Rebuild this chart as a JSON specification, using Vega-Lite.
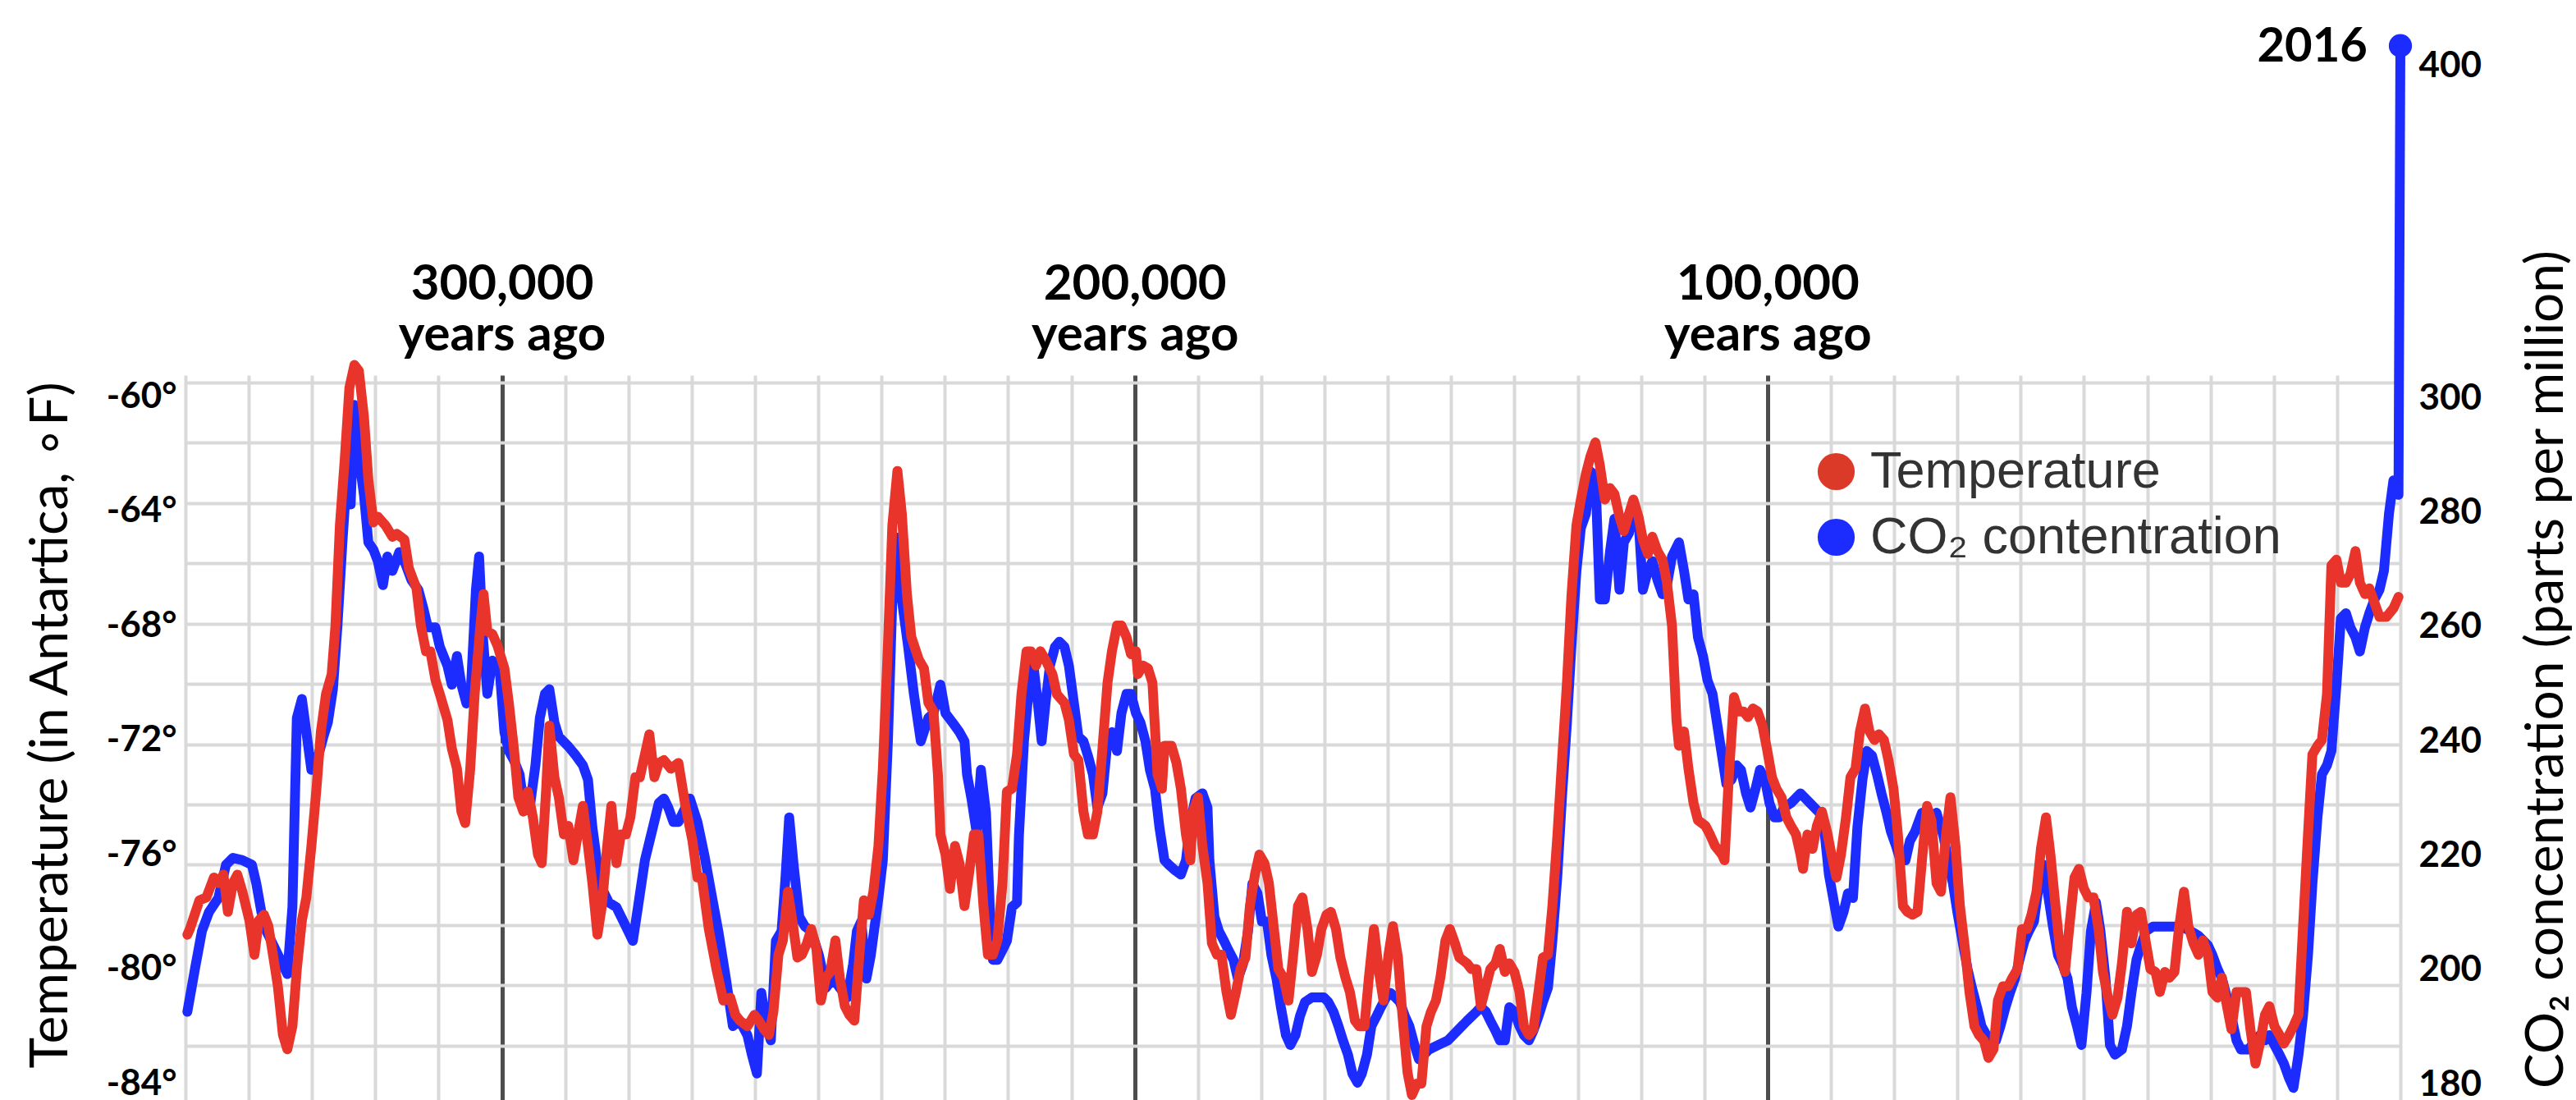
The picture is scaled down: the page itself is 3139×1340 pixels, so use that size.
{
  "$schema": "https://vega.github.io/schema/vega-lite/v6.json",
  "width": 2699,
  "height": 883,
  "autosize": {"type": "none"},
  "padding": {"left": 226, "top": 457, "right": 214, "bottom": 0},
  "background": "white",
  "config": {"view": {"stroke": null}, "font": "Lato"},
  "datasets": {
    "temperature": [
      {"kyr":-349.7,"temp":-78.8},{"kyr":-349.3,"temp":-78.6},{"kyr":-347.8,"temp":-77.6},{"kyr":-346.7,"temp":-77.5},{"kyr":-345.5,"temp":-76.8},{"kyr":-344.8,"temp":-77.0},{"kyr":-344.0,"temp":-76.7},{"kyr":-343.3,"temp":-78.0},{"kyr":-342.5,"temp":-77.0},{"kyr":-341.8,"temp":-76.7},{"kyr":-341.0,"temp":-77.3},{"kyr":-339.9,"temp":-78.3},{"kyr":-339.1,"temp":-79.5},{"kyr":-338.4,"temp":-78.3},{"kyr":-337.6,"temp":-78.1},{"kyr":-336.9,"temp":-78.5},{"kyr":-336.1,"temp":-79.6},{"kyr":-335.4,"temp":-80.6},{"kyr":-334.6,"temp":-82.3},{"kyr":-333.9,"temp":-82.8},{"kyr":-333.1,"temp":-82.0},{"kyr":-332.4,"temp":-80.0},{"kyr":-331.6,"temp":-78.3},{"kyr":-330.9,"temp":-77.5},{"kyr":-330.1,"temp":-75.7},{"kyr":-329.3,"temp":-73.7},{"kyr":-328.6,"temp":-71.7},{"kyr":-327.8,"temp":-70.4},{"kyr":-326.9,"temp":-69.7},{"kyr":-326.3,"temp":-68.0},{"kyr":-325.6,"temp":-64.5},{"kyr":-324.8,"temp":-62.1},{"kyr":-324.1,"temp":-59.7},{"kyr":-323.3,"temp":-58.9},{"kyr":-322.6,"temp":-59.1},{"kyr":-321.8,"temp":-60.7},{"kyr":-321.1,"temp":-62.9},{"kyr":-320.3,"temp":-64.4},{"kyr":-319.6,"temp":-64.2},{"kyr":-318.4,"temp":-64.5},{"kyr":-317.3,"temp":-64.9},{"kyr":-316.6,"temp":-64.8},{"kyr":-315.4,"temp":-65.0},{"kyr":-314.7,"temp":-66.0},{"kyr":-313.5,"temp":-66.7},{"kyr":-312.8,"temp":-68.0},{"kyr":-312.0,"temp":-68.9},{"kyr":-311.3,"temp":-68.9},{"kyr":-310.5,"temp":-69.9},{"kyr":-309.8,"temp":-70.4},{"kyr":-308.6,"temp":-71.3},{"kyr":-307.9,"temp":-72.3},{"kyr":-307.1,"temp":-73.0},{"kyr":-306.4,"temp":-74.5},{"kyr":-305.8,"temp":-74.9},{"kyr":-305.0,"temp":-73.0},{"kyr":-304.3,"temp":-70.4},{"kyr":-303.4,"temp":-68.0},{"kyr":-302.9,"temp":-66.9},{"kyr":-302.3,"temp":-68.2},{"kyr":-301.5,"temp":-68.3},{"kyr":-300.7,"temp":-68.7},{"kyr":-299.6,"temp":-69.5},{"kyr":-298.9,"temp":-70.7},{"kyr":-298.1,"temp":-72.3},{"kyr":-297.4,"temp":-74.0},{"kyr":-296.6,"temp":-74.5},{"kyr":-295.9,"temp":-73.8},{"kyr":-295.1,"temp":-74.7},{"kyr":-294.3,"temp":-76.0},{"kyr":-293.7,"temp":-76.3},{"kyr":-293.0,"temp":-73.7},{"kyr":-292.5,"temp":-71.5},{"kyr":-291.7,"temp":-73.3},{"kyr":-291.0,"temp":-74.0},{"kyr":-290.2,"temp":-75.3},{"kyr":-289.5,"temp":-75.0},{"kyr":-288.7,"temp":-76.2},{"kyr":-288.0,"temp":-75.3},{"kyr":-287.2,"temp":-74.3},{"kyr":-286.4,"temp":-75.7},{"kyr":-285.7,"temp":-77.0},{"kyr":-284.9,"temp":-78.8},{"kyr":-284.2,"temp":-77.8},{"kyr":-283.4,"temp":-75.8},{"kyr":-282.7,"temp":-74.3},{"kyr":-281.9,"temp":-76.3},{"kyr":-281.2,"temp":-75.3},{"kyr":-280.4,"temp":-75.3},{"kyr":-279.7,"temp":-74.7},{"kyr":-278.9,"temp":-73.3},{"kyr":-278.2,"temp":-73.3},{"kyr":-277.4,"temp":-72.5},{"kyr":-276.7,"temp":-71.8},{"kyr":-275.9,"temp":-73.3},{"kyr":-275.2,"temp":-72.8},{"kyr":-274.4,"temp":-72.7},{"kyr":-273.3,"temp":-73.0},{"kyr":-272.1,"temp":-72.8},{"kyr":-271.0,"temp":-74.3},{"kyr":-269.9,"temp":-75.5},{"kyr":-269.1,"temp":-76.8},{"kyr":-268.4,"temp":-76.8},{"kyr":-267.3,"temp":-78.6},{"kyr":-266.1,"temp":-80.0},{"kyr":-265.0,"temp":-81.1},{"kyr":-263.9,"temp":-81.0},{"kyr":-263.1,"temp":-81.6},{"kyr":-262.4,"temp":-81.8},{"kyr":-261.2,"temp":-82.0},{"kyr":-260.1,"temp":-81.6},{"kyr":-259.4,"temp":-81.8},{"kyr":-258.6,"temp":-82.1},{"kyr":-257.8,"temp":-82.3},{"kyr":-257.1,"temp":-81.5},{"kyr":-256.3,"temp":-79.5},{"kyr":-255.6,"temp":-79.0},{"kyr":-254.8,"temp":-77.3},{"kyr":-254.1,"temp":-78.3},{"kyr":-253.3,"temp":-79.6},{"kyr":-252.6,"temp":-79.5},{"kyr":-251.8,"temp":-79.1},{"kyr":-251.1,"temp":-78.6},{"kyr":-250.3,"temp":-79.3},{"kyr":-249.6,"temp":-81.1},{"kyr":-248.8,"temp":-80.3},{"kyr":-248.1,"temp":-80.1},{"kyr":-247.3,"temp":-79.0},{"kyr":-246.6,"temp":-80.3},{"kyr":-245.8,"temp":-81.3},{"kyr":-245.1,"temp":-81.6},{"kyr":-244.3,"temp":-81.8},{"kyr":-243.5,"temp":-79.5},{"kyr":-242.8,"temp":-77.6},{"kyr":-242.0,"temp":-78.1},{"kyr":-241.3,"temp":-77.3},{"kyr":-240.5,"temp":-75.7},{"kyr":-239.8,"temp":-73.0},{"kyr":-239.0,"temp":-68.7},{"kyr":-238.3,"temp":-64.5},{"kyr":-237.5,"temp":-62.6},{"kyr":-236.8,"temp":-64.1},{"kyr":-236.0,"temp":-66.9},{"kyr":-235.3,"temp":-68.4},{"kyr":-234.1,"temp":-69.2},{"kyr":-233.3,"temp":-69.5},{"kyr":-232.6,"temp":-70.7},{"kyr":-231.8,"temp":-71.0},{"kyr":-231.1,"temp":-73.2},{"kyr":-230.7,"temp":-75.3},{"kyr":-229.9,"temp":-76.0},{"kyr":-229.2,"temp":-77.2},{"kyr":-228.4,"temp":-75.7},{"kyr":-227.7,"temp":-76.3},{"kyr":-226.9,"temp":-77.8},{"kyr":-226.2,"temp":-76.7},{"kyr":-225.4,"temp":-75.3},{"kyr":-224.7,"temp":-75.3},{"kyr":-223.9,"temp":-77.8},{"kyr":-223.2,"temp":-79.5},{"kyr":-222.4,"temp":-79.5},{"kyr":-221.7,"temp":-79.0},{"kyr":-220.9,"temp":-77.0},{"kyr":-220.2,"temp":-73.8},{"kyr":-219.4,"temp":-73.7},{"kyr":-218.6,"temp":-72.5},{"kyr":-217.9,"temp":-70.4},{"kyr":-217.1,"temp":-68.9},{"kyr":-216.4,"temp":-68.9},{"kyr":-215.6,"temp":-69.4},{"kyr":-214.9,"temp":-68.9},{"kyr":-214.1,"temp":-69.2},{"kyr":-213.0,"temp":-69.7},{"kyr":-212.3,"temp":-70.4},{"kyr":-211.1,"temp":-70.7},{"kyr":-210.4,"temp":-71.3},{"kyr":-209.6,"temp":-72.5},{"kyr":-208.9,"temp":-72.7},{"kyr":-208.1,"temp":-74.5},{"kyr":-207.4,"temp":-75.3},{"kyr":-206.6,"temp":-75.3},{"kyr":-205.9,"temp":-74.5},{"kyr":-205.1,"temp":-72.3},{"kyr":-204.3,"temp":-70.0},{"kyr":-203.6,"temp":-68.9},{"kyr":-202.8,"temp":-68.0},{"kyr":-202.1,"temp":-68.0},{"kyr":-201.3,"temp":-68.4},{"kyr":-200.6,"temp":-69.0},{"kyr":-199.8,"temp":-68.9},{"kyr":-199.5,"temp":-69.7},{"kyr":-198.7,"temp":-69.4},{"kyr":-197.9,"temp":-69.5},{"kyr":-197.2,"temp":-70.0},{"kyr":-196.4,"temp":-73.2},{"kyr":-195.7,"temp":-73.7},{"kyr":-195.3,"temp":-72.2},{"kyr":-194.2,"temp":-72.2},{"kyr":-193.4,"temp":-72.8},{"kyr":-192.7,"temp":-73.7},{"kyr":-191.9,"temp":-75.3},{"kyr":-191.2,"temp":-76.2},{"kyr":-190.8,"temp":-74.5},{"kyr":-190.0,"temp":-74.0},{"kyr":-189.3,"temp":-75.7},{"kyr":-188.5,"temp":-77.0},{"kyr":-187.8,"temp":-79.1},{"kyr":-187.0,"temp":-79.5},{"kyr":-186.3,"temp":-79.5},{"kyr":-185.5,"temp":-80.8},{"kyr":-184.8,"temp":-81.6},{"kyr":-184.0,"temp":-80.8},{"kyr":-183.3,"temp":-80.0},{"kyr":-182.5,"temp":-79.6},{"kyr":-181.8,"temp":-77.8},{"kyr":-181.0,"temp":-76.7},{"kyr":-180.3,"temp":-76.0},{"kyr":-179.5,"temp":-76.3},{"kyr":-178.8,"temp":-77.0},{"kyr":-178.0,"temp":-78.6},{"kyr":-177.3,"temp":-80.0},{"kyr":-176.5,"temp":-80.3},{"kyr":-175.7,"temp":-81.1},{"kyr":-175.0,"temp":-79.6},{"kyr":-174.2,"temp":-77.8},{"kyr":-173.5,"temp":-77.5},{"kyr":-172.7,"temp":-78.6},{"kyr":-172.0,"temp":-80.1},{"kyr":-171.2,"temp":-79.5},{"kyr":-170.5,"temp":-78.6},{"kyr":-169.7,"temp":-78.1},{"kyr":-169.0,"temp":-78.0},{"kyr":-168.2,"temp":-78.6},{"kyr":-167.5,"temp":-79.6},{"kyr":-166.7,"temp":-80.3},{"kyr":-166.0,"temp":-80.8},{"kyr":-165.2,"temp":-81.8},{"kyr":-164.5,"temp":-82.0},{"kyr":-163.7,"temp":-82.0},{"kyr":-163.0,"temp":-80.3},{"kyr":-162.2,"temp":-78.6},{"kyr":-161.4,"temp":-80.1},{"kyr":-160.7,"temp":-81.1},{"kyr":-159.9,"temp":-79.5},{"kyr":-159.2,"temp":-78.5},{"kyr":-158.4,"temp":-79.6},{"kyr":-157.7,"temp":-81.6},{"kyr":-156.9,"temp":-83.6},{"kyr":-156.2,"temp":-84.4},{"kyr":-155.4,"temp":-84.0},{"kyr":-154.7,"temp":-84.0},{"kyr":-153.9,"temp":-82.0},{"kyr":-153.2,"temp":-81.5},{"kyr":-152.4,"temp":-81.1},{"kyr":-151.7,"temp":-80.3},{"kyr":-150.9,"temp":-79.0},{"kyr":-150.2,"temp":-78.6},{"kyr":-149.4,"temp":-79.1},{"kyr":-148.7,"temp":-79.6},{"kyr":-147.5,"temp":-79.8},{"kyr":-146.8,"temp":-80.0},{"kyr":-146.0,"temp":-80.0},{"kyr":-145.3,"temp":-81.3},{"kyr":-144.5,"temp":-80.6},{"kyr":-143.8,"temp":-80.0},{"kyr":-143.0,"temp":-79.8},{"kyr":-142.3,"temp":-79.3},{"kyr":-141.5,"temp":-80.1},{"kyr":-140.8,"temp":-79.8},{"kyr":-140.0,"temp":-80.1},{"kyr":-139.2,"temp":-80.8},{"kyr":-138.5,"temp":-82.0},{"kyr":-137.7,"temp":-82.3},{"kyr":-137.0,"temp":-82.1},{"kyr":-136.2,"temp":-80.8},{"kyr":-135.5,"temp":-79.6},{"kyr":-134.7,"temp":-79.5},{"kyr":-134.0,"temp":-77.8},{"kyr":-133.2,"temp":-75.3},{"kyr":-132.5,"temp":-72.8},{"kyr":-131.7,"temp":-70.0},{"kyr":-131.0,"temp":-67.0},{"kyr":-130.2,"temp":-64.5},{"kyr":-129.5,"temp":-63.6},{"kyr":-128.7,"temp":-62.7},{"kyr":-128.0,"temp":-62.1},{"kyr":-127.2,"temp":-61.6},{"kyr":-126.5,"temp":-62.4},{"kyr":-125.7,"temp":-63.6},{"kyr":-124.9,"temp":-63.2},{"kyr":-124.2,"temp":-63.4},{"kyr":-123.4,"temp":-64.2},{"kyr":-122.7,"temp":-64.7},{"kyr":-121.9,"temp":-64.1},{"kyr":-121.2,"temp":-63.6},{"kyr":-120.4,"temp":-64.2},{"kyr":-119.7,"temp":-65.0},{"kyr":-118.9,"temp":-65.5},{"kyr":-118.2,"temp":-64.9},{"kyr":-117.4,"temp":-65.4},{"kyr":-116.6,"temp":-65.7},{"kyr":-115.9,"temp":-66.5},{"kyr":-115.1,"temp":-68.0},{"kyr":-114.4,"temp":-71.3},{"kyr":-114.0,"temp":-72.2},{"kyr":-113.2,"temp":-71.7},{"kyr":-112.5,"temp":-73.0},{"kyr":-111.7,"temp":-74.2},{"kyr":-111.0,"temp":-74.8},{"kyr":-109.8,"temp":-75.0},{"kyr":-109.1,"temp":-75.3},{"kyr":-108.3,"temp":-75.7},{"kyr":-107.2,"temp":-76.0},{"kyr":-106.8,"temp":-76.2},{"kyr":-106.1,"temp":-73.2},{"kyr":-105.3,"temp":-70.5},{"kyr":-104.6,"temp":-71.0},{"kyr":-103.8,"temp":-71.0},{"kyr":-103.1,"temp":-71.2},{"kyr":-102.3,"temp":-70.9},{"kyr":-101.6,"temp":-71.0},{"kyr":-100.8,"temp":-71.5},{"kyr":-100.1,"temp":-72.3},{"kyr":-99.3,"temp":-73.3},{"kyr":-98.6,"temp":-73.7},{"kyr":-97.8,"temp":-74.0},{"kyr":-97.0,"temp":-74.7},{"kyr":-96.3,"temp":-75.0},{"kyr":-95.5,"temp":-75.3},{"kyr":-94.8,"temp":-76.0},{"kyr":-94.4,"temp":-76.5},{"kyr":-93.7,"temp":-75.3},{"kyr":-92.9,"temp":-75.8},{"kyr":-92.2,"temp":-75.0},{"kyr":-91.4,"temp":-74.5},{"kyr":-90.6,"temp":-75.2},{"kyr":-89.9,"temp":-76.0},{"kyr":-89.1,"temp":-76.8},{"kyr":-88.4,"temp":-76.0},{"kyr":-87.6,"temp":-74.7},{"kyr":-86.9,"temp":-73.3},{"kyr":-86.1,"temp":-73.0},{"kyr":-85.4,"temp":-71.7},{"kyr":-84.6,"temp":-70.9},{"kyr":-83.9,"temp":-71.7},{"kyr":-83.1,"temp":-72.0},{"kyr":-82.4,"temp":-71.8},{"kyr":-81.6,"temp":-72.0},{"kyr":-80.9,"temp":-72.7},{"kyr":-80.1,"temp":-73.7},{"kyr":-79.4,"temp":-75.3},{"kyr":-78.6,"temp":-77.8},{"kyr":-77.9,"temp":-78.0},{"kyr":-77.1,"temp":-78.1},{"kyr":-76.3,"temp":-78.0},{"kyr":-75.6,"temp":-76.2},{"kyr":-74.8,"temp":-74.3},{"kyr":-74.1,"temp":-74.8},{"kyr":-73.3,"temp":-77.0},{"kyr":-72.6,"temp":-77.3},{"kyr":-71.8,"temp":-75.3},{"kyr":-71.1,"temp":-74.0},{"kyr":-70.3,"temp":-75.7},{"kyr":-69.6,"temp":-77.8},{"kyr":-68.8,"temp":-79.3},{"kyr":-68.1,"temp":-80.8},{"kyr":-67.3,"temp":-82.0},{"kyr":-66.6,"temp":-82.3},{"kyr":-65.8,"temp":-82.5},{"kyr":-65.1,"temp":-83.1},{"kyr":-64.3,"temp":-82.8},{"kyr":-63.6,"temp":-81.1},{"kyr":-62.8,"temp":-80.6},{"kyr":-62.0,"temp":-80.6},{"kyr":-61.3,"temp":-80.3},{"kyr":-60.5,"temp":-80.0},{"kyr":-59.8,"temp":-78.6},{"kyr":-59.0,"temp":-78.6},{"kyr":-58.3,"temp":-78.1},{"kyr":-57.5,"temp":-77.3},{"kyr":-56.8,"temp":-75.8},{"kyr":-56.0,"temp":-74.7},{"kyr":-55.3,"temp":-76.0},{"kyr":-54.5,"temp":-77.8},{"kyr":-53.8,"temp":-79.3},{"kyr":-53.0,"temp":-80.1},{"kyr":-52.3,"temp":-78.5},{"kyr":-51.5,"temp":-76.8},{"kyr":-50.8,"temp":-76.5},{"kyr":-50.0,"temp":-77.2},{"kyr":-49.3,"temp":-77.5},{"kyr":-48.5,"temp":-77.5},{"kyr":-47.7,"temp":-78.6},{"kyr":-47.0,"temp":-80.1},{"kyr":-46.2,"temp":-81.0},{"kyr":-45.5,"temp":-81.6},{"kyr":-44.7,"temp":-81.0},{"kyr":-44.0,"temp":-79.8},{"kyr":-43.2,"temp":-78.0},{"kyr":-42.5,"temp":-79.1},{"kyr":-41.7,"temp":-78.1},{"kyr":-41.0,"temp":-78.0},{"kyr":-40.2,"temp":-79.1},{"kyr":-39.5,"temp":-80.0},{"kyr":-38.7,"temp":-80.1},{"kyr":-38.0,"temp":-80.8},{"kyr":-37.2,"temp":-80.1},{"kyr":-36.5,"temp":-80.3},{"kyr":-35.7,"temp":-80.1},{"kyr":-35.0,"temp":-78.6},{"kyr":-34.2,"temp":-77.3},{"kyr":-33.5,"temp":-78.5},{"kyr":-32.7,"temp":-79.1},{"kyr":-31.9,"temp":-79.5},{"kyr":-31.2,"temp":-79.0},{"kyr":-30.4,"temp":-79.5},{"kyr":-29.7,"temp":-80.8},{"kyr":-28.9,"temp":-81.0},{"kyr":-28.2,"temp":-80.3},{"kyr":-27.4,"temp":-81.3},{"kyr":-26.7,"temp":-82.1},{"kyr":-25.9,"temp":-80.8},{"kyr":-25.2,"temp":-80.8},{"kyr":-24.4,"temp":-80.8},{"kyr":-23.7,"temp":-82.1},{"kyr":-22.9,"temp":-83.3},{"kyr":-22.2,"temp":-82.6},{"kyr":-21.4,"temp":-81.6},{"kyr":-20.7,"temp":-81.3},{"kyr":-19.9,"temp":-82.0},{"kyr":-19.1,"temp":-82.3},{"kyr":-18.4,"temp":-82.6},{"kyr":-17.6,"temp":-82.3},{"kyr":-16.9,"temp":-82.0},{"kyr":-16.1,"temp":-81.6},{"kyr":-15.4,"temp":-78.6},{"kyr":-14.6,"temp":-75.3},{"kyr":-13.9,"temp":-72.5},{"kyr":-13.1,"temp":-72.2},{"kyr":-12.4,"temp":-72.0},{"kyr":-11.6,"temp":-70.4},{"kyr":-10.9,"temp":-65.9},{"kyr":-10.1,"temp":-65.7},{"kyr":-9.4,"temp":-66.5},{"kyr":-8.6,"temp":-66.5},{"kyr":-7.9,"temp":-66.2},{"kyr":-7.1,"temp":-65.4},{"kyr":-6.4,"temp":-66.5},{"kyr":-5.6,"temp":-66.9},{"kyr":-4.9,"temp":-66.7},{"kyr":-4.1,"temp":-67.2},{"kyr":-3.3,"temp":-67.7},{"kyr":-2.2,"temp":-67.7},{"kyr":-1.1,"temp":-67.4},{"kyr":-0.3,"temp":-67.0}
    ],
    "co2": [
      {"kyr":-349.7,"co2":192.7},{"kyr":-348.5,"co2":200.2},{"kyr":-347.4,"co2":206.8},{"kyr":-346.3,"co2":210.1},{"kyr":-344.8,"co2":212.6},{"kyr":-343.6,"co2":218.4},{"kyr":-342.5,"co2":219.6},{"kyr":-341.0,"co2":219.2},{"kyr":-339.5,"co2":218.4},{"kyr":-338.8,"co2":215.1},{"kyr":-338.0,"co2":210.1},{"kyr":-337.2,"co2":206.8},{"kyr":-336.1,"co2":204.3},{"kyr":-335.0,"co2":201.8},{"kyr":-333.9,"co2":199.3},{"kyr":-333.1,"co2":211.0},{"kyr":-332.4,"co2":244.1},{"kyr":-331.6,"co2":247.4},{"kyr":-330.9,"co2":241.6},{"kyr":-330.1,"co2":235.0},{"kyr":-329.0,"co2":237.5},{"kyr":-328.2,"co2":240.8},{"kyr":-327.5,"co2":243.3},{"kyr":-326.7,"co2":249.1},{"kyr":-326.0,"co2":259.9},{"kyr":-325.2,"co2":274.8},{"kyr":-324.5,"co2":286.4},{"kyr":-323.9,"co2":281.4},{"kyr":-323.3,"co2":298.8},{"kyr":-322.6,"co2":289.7},{"kyr":-321.8,"co2":283.1},{"kyr":-321.1,"co2":274.8},{"kyr":-320.3,"co2":273.5},{"kyr":-319.6,"co2":271.5},{"kyr":-318.8,"co2":267.3},{"kyr":-318.1,"co2":272.3},{"kyr":-317.3,"co2":269.8},{"kyr":-316.2,"co2":273.1},{"kyr":-315.4,"co2":271.5},{"kyr":-314.3,"co2":268.2},{"kyr":-313.2,"co2":266.5},{"kyr":-312.4,"co2":263.2},{"kyr":-311.7,"co2":259.9},{"kyr":-310.5,"co2":259.9},{"kyr":-309.8,"co2":256.5},{"kyr":-308.6,"co2":253.2},{"kyr":-307.9,"co2":249.9},{"kyr":-307.1,"co2":254.9},{"kyr":-306.4,"co2":249.9},{"kyr":-305.6,"co2":246.6},{"kyr":-304.9,"co2":249.1},{"kyr":-304.1,"co2":266.5},{"kyr":-303.6,"co2":272.3},{"kyr":-303.0,"co2":258.2},{"kyr":-302.3,"co2":248.3},{"kyr":-301.5,"co2":254.1},{"kyr":-300.4,"co2":253.2},{"kyr":-299.6,"co2":241.6},{"kyr":-298.9,"co2":238.3},{"kyr":-298.1,"co2":236.7},{"kyr":-297.2,"co2":234.2},{"kyr":-296.6,"co2":229.2},{"kyr":-295.5,"co2":229.2},{"kyr":-294.7,"co2":235.8},{"kyr":-294.0,"co2":244.1},{"kyr":-293.2,"co2":248.3},{"kyr":-292.5,"co2":249.1},{"kyr":-291.7,"co2":243.3},{"kyr":-291.0,"co2":240.8},{"kyr":-289.5,"co2":239.1},{"kyr":-288.3,"co2":237.5},{"kyr":-287.2,"co2":235.8},{"kyr":-286.4,"co2":233.3},{"kyr":-285.7,"co2":225.0},{"kyr":-284.9,"co2":218.4},{"kyr":-284.2,"co2":214.3},{"kyr":-283.1,"co2":211.8},{"kyr":-281.9,"co2":211.0},{"kyr":-280.8,"co2":208.5},{"kyr":-279.3,"co2":205.1},{"kyr":-278.5,"co2":211.0},{"kyr":-277.4,"co2":219.2},{"kyr":-276.3,"co2":224.2},{"kyr":-275.2,"co2":229.2},{"kyr":-274.4,"co2":230.0},{"kyr":-273.7,"co2":228.4},{"kyr":-272.9,"co2":225.9},{"kyr":-272.1,"co2":225.9},{"kyr":-271.4,"co2":227.5},{"kyr":-270.3,"co2":230.0},{"kyr":-269.1,"co2":225.9},{"kyr":-268.0,"co2":220.1},{"kyr":-266.9,"co2":213.4},{"kyr":-265.8,"co2":206.8},{"kyr":-264.6,"co2":198.5},{"kyr":-263.5,"co2":190.2},{"kyr":-262.4,"co2":191.1},{"kyr":-261.2,"co2":188.6},{"kyr":-260.5,"co2":185.2},{"kyr":-259.7,"co2":181.9},{"kyr":-259.0,"co2":196.0},{"kyr":-258.2,"co2":190.2},{"kyr":-257.5,"co2":187.7},{"kyr":-256.7,"co2":205.1},{"kyr":-255.8,"co2":206.8},{"kyr":-255.2,"co2":215.9},{"kyr":-254.6,"co2":226.7},{"kyr":-253.9,"co2":218.4},{"kyr":-253.0,"co2":209.3},{"kyr":-252.1,"co2":207.6},{"kyr":-251.1,"co2":206.8},{"kyr":-249.9,"co2":202.6},{"kyr":-248.8,"co2":196.9},{"kyr":-247.7,"co2":198.5},{"kyr":-246.6,"co2":196.9},{"kyr":-245.4,"co2":195.2},{"kyr":-244.5,"co2":201.0},{"kyr":-243.9,"co2":206.8},{"kyr":-243.2,"co2":208.5},{"kyr":-242.4,"co2":198.5},{"kyr":-241.7,"co2":202.6},{"kyr":-240.5,"co2":212.6},{"kyr":-239.8,"co2":219.2},{"kyr":-239.0,"co2":240.0},{"kyr":-238.3,"co2":264.8},{"kyr":-237.5,"co2":275.6},{"kyr":-236.8,"co2":264.8},{"kyr":-235.8,"co2":256.5},{"kyr":-234.9,"co2":248.3},{"kyr":-233.8,"co2":240.0},{"kyr":-232.6,"co2":244.1},{"kyr":-231.8,"co2":244.9},{"kyr":-230.7,"co2":249.9},{"kyr":-229.9,"co2":244.9},{"kyr":-228.8,"co2":243.3},{"kyr":-227.7,"co2":241.6},{"kyr":-226.9,"co2":240.0},{"kyr":-226.5,"co2":234.2},{"kyr":-225.8,"co2":230.0},{"kyr":-225.0,"co2":224.2},{"kyr":-224.3,"co2":235.0},{"kyr":-223.5,"co2":227.5},{"kyr":-222.9,"co2":211.0},{"kyr":-222.4,"co2":201.8},{"kyr":-221.7,"co2":201.8},{"kyr":-220.9,"co2":203.5},{"kyr":-220.2,"co2":205.1},{"kyr":-219.4,"co2":211.0},{"kyr":-218.6,"co2":211.8},{"kyr":-218.3,"co2":223.4},{"kyr":-217.5,"co2":240.0},{"kyr":-216.8,"co2":248.3},{"kyr":-216.0,"co2":253.2},{"kyr":-215.3,"co2":246.6},{"kyr":-214.7,"co2":240.0},{"kyr":-214.1,"co2":246.6},{"kyr":-213.4,"co2":253.2},{"kyr":-212.6,"co2":256.5},{"kyr":-211.9,"co2":257.4},{"kyr":-211.1,"co2":256.5},{"kyr":-210.4,"co2":253.2},{"kyr":-209.6,"co2":246.6},{"kyr":-208.9,"co2":240.8},{"kyr":-208.1,"co2":240.0},{"kyr":-207.4,"co2":237.5},{"kyr":-206.6,"co2":234.2},{"kyr":-205.9,"co2":228.4},{"kyr":-205.1,"co2":230.9},{"kyr":-204.3,"co2":240.0},{"kyr":-203.6,"co2":241.6},{"kyr":-202.8,"co2":238.3},{"kyr":-202.1,"co2":244.9},{"kyr":-201.3,"co2":248.3},{"kyr":-200.6,"co2":248.3},{"kyr":-199.8,"co2":244.9},{"kyr":-199.1,"co2":243.3},{"kyr":-198.3,"co2":240.0},{"kyr":-197.6,"co2":235.0},{"kyr":-196.8,"co2":231.7},{"kyr":-196.1,"co2":225.0},{"kyr":-195.3,"co2":219.2},{"kyr":-194.6,"co2":218.4},{"kyr":-193.8,"co2":217.6},{"kyr":-192.7,"co2":216.7},{"kyr":-191.9,"co2":219.2},{"kyr":-191.2,"co2":225.9},{"kyr":-190.4,"co2":230.0},{"kyr":-189.3,"co2":230.9},{"kyr":-188.5,"co2":228.4},{"kyr":-188.2,"co2":219.2},{"kyr":-187.4,"co2":209.3},{"kyr":-186.7,"co2":206.8},{"kyr":-185.9,"co2":205.1},{"kyr":-185.2,"co2":203.5},{"kyr":-184.4,"co2":201.8},{"kyr":-183.7,"co2":198.5},{"kyr":-182.9,"co2":201.0},{"kyr":-182.1,"co2":206.8},{"kyr":-181.4,"co2":215.1},{"kyr":-180.6,"co2":213.4},{"kyr":-179.9,"co2":208.5},{"kyr":-179.1,"co2":208.5},{"kyr":-178.4,"co2":202.6},{"kyr":-177.6,"co2":198.5},{"kyr":-176.9,"co2":193.5},{"kyr":-176.1,"co2":188.6},{"kyr":-175.4,"co2":186.9},{"kyr":-174.6,"co2":188.6},{"kyr":-173.9,"co2":191.9},{"kyr":-173.1,"co2":194.4},{"kyr":-172.0,"co2":195.2},{"kyr":-170.1,"co2":195.2},{"kyr":-169.4,"co2":194.4},{"kyr":-168.6,"co2":192.7},{"kyr":-167.8,"co2":190.2},{"kyr":-167.1,"co2":187.7},{"kyr":-166.3,"co2":185.2},{"kyr":-165.6,"co2":181.9},{"kyr":-164.8,"co2":180.3},{"kyr":-164.1,"co2":181.9},{"kyr":-163.3,"co2":185.2},{"kyr":-162.6,"co2":190.2},{"kyr":-161.8,"co2":191.9},{"kyr":-161.1,"co2":193.5},{"kyr":-160.3,"co2":195.2},{"kyr":-159.6,"co2":196.0},{"kyr":-158.8,"co2":195.2},{"kyr":-158.1,"co2":194.4},{"kyr":-157.3,"co2":191.9},{"kyr":-156.6,"co2":190.2},{"kyr":-155.8,"co2":186.9},{"kyr":-155.1,"co2":184.4},{"kyr":-154.3,"co2":185.2},{"kyr":-153.5,"co2":186.1},{"kyr":-152.0,"co2":186.9},{"kyr":-150.5,"co2":187.7},{"kyr":-149.0,"co2":189.4},{"kyr":-147.5,"co2":191.1},{"kyr":-146.0,"co2":192.7},{"kyr":-145.3,"co2":193.5},{"kyr":-144.5,"co2":192.7},{"kyr":-143.8,"co2":191.1},{"kyr":-143.0,"co2":189.4},{"kyr":-142.3,"co2":187.7},{"kyr":-141.5,"co2":187.7},{"kyr":-140.8,"co2":193.5},{"kyr":-140.0,"co2":192.7},{"kyr":-139.2,"co2":190.2},{"kyr":-138.5,"co2":188.6},{"kyr":-137.7,"co2":187.7},{"kyr":-137.0,"co2":189.4},{"kyr":-136.2,"co2":191.9},{"kyr":-135.5,"co2":194.4},{"kyr":-134.7,"co2":196.9},{"kyr":-134.0,"co2":205.1},{"kyr":-133.2,"co2":216.7},{"kyr":-132.5,"co2":230.0},{"kyr":-131.7,"co2":243.3},{"kyr":-131.0,"co2":256.5},{"kyr":-130.2,"co2":269.8},{"kyr":-129.5,"co2":277.3},{"kyr":-128.7,"co2":279.8},{"kyr":-128.0,"co2":287.2},{"kyr":-127.2,"co2":286.4},{"kyr":-126.5,"co2":264.8},{"kyr":-125.7,"co2":264.8},{"kyr":-124.9,"co2":273.1},{"kyr":-124.2,"co2":278.9},{"kyr":-123.4,"co2":266.5},{"kyr":-122.7,"co2":274.8},{"kyr":-121.9,"co2":276.4},{"kyr":-121.2,"co2":280.6},{"kyr":-120.4,"co2":278.9},{"kyr":-119.7,"co2":266.5},{"kyr":-118.9,"co2":269.8},{"kyr":-118.2,"co2":271.5},{"kyr":-117.4,"co2":268.2},{"kyr":-116.6,"co2":265.7},{"kyr":-115.9,"co2":267.3},{"kyr":-115.1,"co2":272.3},{"kyr":-114.0,"co2":274.8},{"kyr":-113.2,"co2":269.8},{"kyr":-112.5,"co2":264.8},{"kyr":-111.7,"co2":265.7},{"kyr":-111.0,"co2":258.2},{"kyr":-110.2,"co2":254.9},{"kyr":-109.5,"co2":250.7},{"kyr":-108.7,"co2":248.3},{"kyr":-108.0,"co2":243.3},{"kyr":-107.2,"co2":237.5},{"kyr":-106.5,"co2":232.5},{"kyr":-105.7,"co2":233.3},{"kyr":-104.9,"co2":235.8},{"kyr":-104.2,"co2":235.0},{"kyr":-103.4,"co2":230.9},{"kyr":-102.7,"co2":228.4},{"kyr":-101.9,"co2":231.7},{"kyr":-101.2,"co2":235.0},{"kyr":-100.4,"co2":233.3},{"kyr":-99.7,"co2":229.2},{"kyr":-98.9,"co2":226.7},{"kyr":-98.2,"co2":226.7},{"kyr":-97.4,"co2":228.4},{"kyr":-96.3,"co2":229.2},{"kyr":-94.8,"co2":230.9},{"kyr":-93.3,"co2":229.2},{"kyr":-91.8,"co2":227.5},{"kyr":-91.0,"co2":224.2},{"kyr":-90.3,"co2":216.7},{"kyr":-89.5,"co2":211.8},{"kyr":-88.8,"co2":207.6},{"kyr":-88.0,"co2":210.1},{"kyr":-87.3,"co2":213.4},{"kyr":-86.5,"co2":212.6},{"kyr":-85.8,"co2":225.0},{"kyr":-85.0,"co2":233.3},{"kyr":-84.3,"co2":238.3},{"kyr":-83.5,"co2":237.5},{"kyr":-82.7,"co2":234.2},{"kyr":-82.0,"co2":230.9},{"kyr":-81.2,"co2":227.5},{"kyr":-80.5,"co2":224.2},{"kyr":-79.7,"co2":221.7},{"kyr":-79.0,"co2":219.2},{"kyr":-78.2,"co2":219.2},{"kyr":-77.5,"co2":222.6},{"kyr":-76.7,"co2":224.2},{"kyr":-75.6,"co2":227.5},{"kyr":-74.5,"co2":226.7},{"kyr":-73.3,"co2":227.5},{"kyr":-72.2,"co2":223.4},{"kyr":-71.5,"co2":219.2},{"kyr":-70.7,"co2":215.1},{"kyr":-70.0,"co2":210.1},{"kyr":-69.2,"co2":205.1},{"kyr":-68.4,"co2":200.2},{"kyr":-67.7,"co2":196.9},{"kyr":-66.9,"co2":193.5},{"kyr":-66.2,"co2":190.2},{"kyr":-65.4,"co2":188.6},{"kyr":-64.7,"co2":187.7},{"kyr":-63.9,"co2":187.7},{"kyr":-63.2,"co2":190.2},{"kyr":-62.4,"co2":193.5},{"kyr":-61.7,"co2":196.0},{"kyr":-60.9,"co2":198.5},{"kyr":-60.2,"co2":201.8},{"kyr":-59.4,"co2":205.1},{"kyr":-58.7,"co2":206.8},{"kyr":-57.9,"co2":208.5},{"kyr":-57.2,"co2":214.3},{"kyr":-56.4,"co2":218.4},{"kyr":-55.7,"co2":213.4},{"kyr":-54.9,"co2":207.6},{"kyr":-54.1,"co2":202.6},{"kyr":-53.4,"co2":201.0},{"kyr":-52.6,"co2":198.5},{"kyr":-51.9,"co2":193.5},{"kyr":-51.1,"co2":190.2},{"kyr":-50.4,"co2":186.9},{"kyr":-49.6,"co2":196.0},{"kyr":-48.9,"co2":206.8},{"kyr":-48.1,"co2":211.8},{"kyr":-47.4,"co2":206.8},{"kyr":-46.6,"co2":198.5},{"kyr":-45.9,"co2":186.9},{"kyr":-45.1,"co2":185.2},{"kyr":-44.0,"co2":186.1},{"kyr":-43.2,"co2":190.2},{"kyr":-42.5,"co2":196.0},{"kyr":-41.7,"co2":201.8},{"kyr":-41.0,"co2":204.3},{"kyr":-40.2,"co2":206.8},{"kyr":-39.1,"co2":207.6},{"kyr":-37.6,"co2":207.6},{"kyr":-36.1,"co2":207.6},{"kyr":-34.6,"co2":207.6},{"kyr":-33.1,"co2":206.8},{"kyr":-31.9,"co2":206.0},{"kyr":-30.4,"co2":204.3},{"kyr":-29.7,"co2":202.6},{"kyr":-28.9,"co2":200.2},{"kyr":-28.2,"co2":198.5},{"kyr":-27.4,"co2":195.2},{"kyr":-26.7,"co2":191.9},{"kyr":-25.9,"co2":187.7},{"kyr":-25.2,"co2":186.1},{"kyr":-24.0,"co2":186.1},{"kyr":-22.9,"co2":187.7},{"kyr":-22.2,"co2":188.6},{"kyr":-21.4,"co2":187.7},{"kyr":-20.7,"co2":188.6},{"kyr":-19.9,"co2":186.9},{"kyr":-19.1,"co2":185.2},{"kyr":-18.4,"co2":183.6},{"kyr":-17.6,"co2":181.1},{"kyr":-16.9,"co2":179.4},{"kyr":-16.1,"co2":185.2},{"kyr":-15.4,"co2":191.9},{"kyr":-14.6,"co2":202.6},{"kyr":-13.9,"co2":215.1},{"kyr":-13.1,"co2":226.7},{"kyr":-12.4,"co2":234.2},{"kyr":-11.6,"co2":235.8},{"kyr":-10.9,"co2":238.3},{"kyr":-10.1,"co2":249.9},{"kyr":-9.4,"co2":261.5},{"kyr":-8.6,"co2":262.4},{"kyr":-7.9,"co2":259.9},{"kyr":-7.1,"co2":258.2},{"kyr":-6.4,"co2":255.7},{"kyr":-5.6,"co2":259.9},{"kyr":-4.9,"co2":262.4},{"kyr":-4.1,"co2":264.8},{"kyr":-3.3,"co2":266.5},{"kyr":-2.6,"co2":269.8},{"kyr":-1.8,"co2":279.8},{"kyr":-1.1,"co2":285.6},{"kyr":-0.3,"co2":283.1},{"kyr":0,"co2":406,"label":"2016"}
    ]
  },
  "layer": [
    {
      "data": {"values": [{}]},
      "mark": {"type": "point", "opacity": 0},
      "encoding": {
        "x": {
          "datum": -350,
          "type": "quantitative",
          "scale": {"domain": [-350, 0], "nice": false, "zero": false},
          "axis": {
            "orient": "top",
            "values": [-350, -340, -330, -320, -310, -300, -290, -280, -270, -260, -250, -240, -230, -220, -210, -200, -190, -180, -170, -160, -150, -140, -130, -120, -110, -100, -90, -80, -70, -60, -50, -40, -30, -20, -10, 0],
            "grid": true,
            "gridColor": {"condition": {"test": "datum.value % 100 === 0 && datum.value !== 0", "value": "#4d4d4d"}, "value": "#d9d9d9"},
            "gridWidth": {"condition": {"test": "datum.value % 100 === 0 && datum.value !== 0", "value": 5}, "value": 4},
            "ticks": false,
            "tickSize": 0,
            "domain": false,
            "labelExpr": "datum.value % 100 === 0 && datum.value !== 0 ? [format(-datum.value * 1000, ','), 'years ago'] : ''",
            "labelFont": "Lato",
            "labelFontWeight": "bold",
            "labelFontSize": 60,
            "labelLineHeight": 62,
            "labelPadding": 80,
            "labelColor": "#000000",
            "labelOverlap": false,
            "labelFlush": false,
            "labelBound": false,
            "labelLimit": 1000,
            "title": null
          }
        },
        "y": {
          "datum": 0,
          "type": "quantitative",
          "scale": {"domain": [-0.1226, 11.9046], "range": [0, 883], "nice": false, "zero": false},
          "axis": {
            "orient": "left",
            "values": [0, 1, 2, 3, 4, 5, 6, 7, 8, 9, 10, 11],
            "grid": true,
            "gridColor": "#d9d9d9",
            "gridWidth": 4,
            "labels": false,
            "ticks": false,
            "tickSize": 0,
            "domain": false,
            "title": null
          }
        }
      }
    },
    {
      "data": {"name": "co2"},
      "encoding": {
        "x": {"field": "kyr", "type": "quantitative", "scale": {"domain": [-350, 0], "nice": false, "zero": false}},
        "y": {
          "field": "co2",
          "type": "quantitative",
          "scale": {"domain": [180, 300, 400], "range": [864, 28, -377], "nice": false, "zero": false},
          "axis": {
            "orient": "right",
            "values": [180, 200, 220, 240, 260, 280, 300, 400],
            "grid": false,
            "ticks": false,
            "tickSize": 0,
            "domain": false,
            "labelPadding": 22,
            "labelFont": "Lato",
            "labelFontWeight": "bold",
            "labelFontSize": 44,
            "labelColor": "#000000",
            "labelOverlap": false,
            "labelFlush": false,
            "labelBound": false,
            "title": "CO₂ concentration (parts per million)",
            "titleFont": "Lato",
            "titleFontWeight": "normal",
            "titleFontSize": 64,
            "titleColor": "#000000",
            "titleAngle": -90,
            "titleBaseline": "top",
            "titlePadding": 48,
            "titleY": 358,
            "titleLimit": 2000
          }
        }
      },
      "layer": [
        {
          "mark": {"type": "line", "color": "#1c2cff", "strokeWidth": 12, "strokeJoin": "round", "strokeCap": "round", "clip": false}
        },
        {
          "transform": [{"filter": "datum.kyr === -349.7"}],
          "mark": {"type": "point", "filled": true, "opacity": 0},
          "encoding": {
            "color": {"datum": "CO₂ contentration", "type": "nominal"}
          }
        },
        {
          "transform": [{"filter": "datum.label != null"}],
          "mark": {"type": "point", "filled": true, "size": 800, "color": "#1c2cff", "opacity": 1}
        },
        {
          "transform": [{"filter": "datum.label != null"}],
          "mark": {"type": "text", "align": "right", "baseline": "middle", "dx": -40, "dy": 2, "font": "Lato", "fontWeight": "bold", "fontSize": 58, "color": "#000000"},
          "encoding": {"text": {"field": "label"}}
        }
      ]
    },
    {
      "data": {"name": "temperature"},
      "encoding": {
        "x": {"field": "kyr", "type": "quantitative", "scale": {"domain": [-350, 0], "nice": false, "zero": false}},
        "y": {
          "field": "temp",
          "type": "quantitative",
          "scale": {"domain": [-84, -60], "range": [863, 26], "nice": false, "zero": false},
          "axis": {
            "orient": "left",
            "values": [-84, -80, -76, -72, -68, -64, -60],
            "labelExpr": "datum.value + '°'",
            "grid": false,
            "ticks": false,
            "tickSize": 0,
            "domain": false,
            "labelPadding": 11,
            "labelFont": "Lato",
            "labelFontWeight": "bold",
            "labelFontSize": 44,
            "labelColor": "#000000",
            "labelOverlap": false,
            "labelFlush": false,
            "title": "Temperature (in Antartica, ∘F)",
            "titleFont": "Lato",
            "titleFontWeight": "normal",
            "titleFontSize": 64,
            "titleColor": "#000000",
            "titlePadding": 35,
            "titleY": 426,
            "titleLimit": 2000
          }
        }
      },
      "layer": [
        {
          "mark": {"type": "line", "color": "#e8342a", "strokeWidth": 12, "strokeJoin": "round", "strokeCap": "round", "clip": false}
        },
        {
          "transform": [{"filter": "datum.kyr === -349.7"}],
          "mark": {"type": "point", "filled": true, "opacity": 0},
          "encoding": {
            "color": {
              "datum": "Temperature",
              "type": "nominal",
              "scale": {"domain": ["Temperature", "CO₂ contentration"], "range": ["#dc3a28", "#1c2cff"]},
              "legend": {
                "title": null,
                "orient": "none",
                "legendX": 1980,
                "legendY": 86,
                "direction": "vertical",
                "padding": 0,
                "symbolType": "circle",
                "symbolSize": 2043,
                "symbolStrokeWidth": 0,
                "symbolOpacity": 1,
                "labelFont": "Liberation Sans",
                "labelFontSize": 63,
                "labelColor": "#333333",
                "labelOffset": 10,
                "labelLimit": 2000,
                "rowPadding": 16
              }
            }
          }
        }
      ]
    }
  ],
  "resolve": {"scale": {"y": "independent"}}
}
